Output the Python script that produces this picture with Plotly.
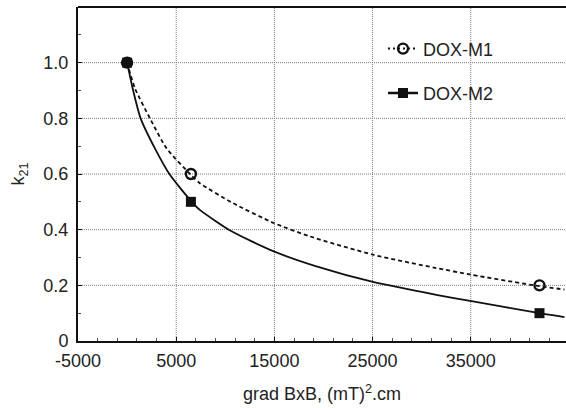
import plotly.graph_objects as go

# measured points
x_pts = [0, 6500, 42000]
m1_pts = [1.0, 0.6, 0.2]
m2_pts = [1.0, 0.5, 0.1]

# fitted curves
m1_curve_x = [0, 799, 2325, 4023, 6495, 7411, 10799, 14939, 18601, 25040, 31490, 35081, 41999, 44542]
m1_curve_y = [1.0, 0.908, 0.800, 0.692, 0.597, 0.567, 0.495, 0.424, 0.376, 0.310, 0.262, 0.238, 0.197, 0.185]
m2_curve_x = [0, 565, 1378, 2833, 4359, 6567, 7411, 10636, 14939, 19283, 25040, 31490, 35081, 41999, 44542]
m2_curve_y = [1.0, 0.908, 0.800, 0.692, 0.597, 0.501, 0.471, 0.394, 0.322, 0.268, 0.212, 0.166, 0.143, 0.100, 0.086]

x_ticks = [-5000, 5000, 15000, 25000, 35000]
y_ticks = [0, 0.2, 0.4, 0.6, 0.8, 1.0]
y_ticktext = ["0", "0.2", "0.4", "0.6", "0.8", "1.0"]

FONT = "Liberation Sans, Arial, sans-serif"
TXT = "#222222"
GRID = "#7a7a7a"

fig = go.Figure()

# dotted grid drawn from the tick arrays
grid_shapes = []
for xv in x_ticks[1:]:
    grid_shapes.append(dict(type="line", xref="x", yref="paper", x0=xv, x1=xv, y0=0, y1=1, layer="below",
                            line=dict(color=GRID, width=1, dash="1px,1px")))
for yv in y_ticks[1:]:
    grid_shapes.append(dict(type="line", xref="paper", yref="y", x0=0, x1=1, y0=yv, y1=yv, layer="below",
                            line=dict(color=GRID, width=1, dash="1px,1px")))
grid_shapes.append(dict(type="line", xref="paper", yref="paper", x0=0, x1=1, y0=1, y1=1,
                        line=dict(color="#111", width=2)))

fig.add_trace(go.Scatter(x=m1_curve_x, y=m1_curve_y, mode="lines", showlegend=False,
                         line=dict(color="#111", width=1.8, dash="4px,3px", shape="spline", smoothing=0.6)))
fig.add_trace(go.Scatter(x=m2_curve_x, y=m2_curve_y, mode="lines", showlegend=False,
                         line=dict(color="#111", width=1.8, shape="spline", smoothing=0.6)))
fig.add_trace(go.Scatter(x=x_pts, y=m1_pts, mode="markers", showlegend=False,
                         marker=dict(symbol="circle-open", size=10, color="#111", line=dict(width=2.4, color="#111"))))
fig.add_trace(go.Scatter(x=x_pts, y=m2_pts, mode="markers", showlegend=False,
                         marker=dict(symbol="square", size=10, color="#111")))
# legend entries
fig.add_trace(go.Scatter(x=[None], y=[None], mode="lines+markers", name="DOX-M1", legendgroup="a",
                         line=dict(color="#111", width=2, dash="2px,3px"),
                         marker=dict(symbol="circle-open", size=10, color="#111", line=dict(width=2.4, color="#111"))))
fig.add_trace(go.Scatter(x=[None], y=[None], mode="lines+markers", name="DOX-M2", legendgroup="b",
                         line=dict(color="#111", width=2.5),
                         marker=dict(symbol="square", size=10, color="#111")))

fig.update_layout(
    width=566, height=408,
    margin=dict(l=78, r=0, t=7, b=67),
    paper_bgcolor="white", plot_bgcolor="white",
    font=dict(family=FONT, size=18, color=TXT),
    legend=dict(x=0.625, y=0.93, xanchor="left", yanchor="top", bgcolor="rgba(0,0,0,0)",
                itemwidth=30, tracegroupgap=18, font=dict(size=18, color=TXT)),
    xaxis=dict(range=[-5000, 44700], tickmode="array", tickvals=x_ticks, ticktext=[str(v) for v in x_ticks],
               showgrid=False,
               zeroline=False, showline=True, linecolor="#111", linewidth=2, mirror=False,
               ticks="inside", ticklen=4, tickcolor="#111", ticklabelstandoff=2,
               minor=dict(dtick=2000, tick0=-5000, ticks="inside", ticklen=3, tickcolor="#555", showgrid=False),
               title=dict(text="grad BxB, (mT)<sup>2</sup>.cm", font=dict(size=18), standoff=18),
               tickfont=dict(size=18)),
    yaxis=dict(range=[0, 1.2], tickmode="array", tickvals=y_ticks, ticktext=y_ticktext,
               showgrid=False,
               zeroline=False, showline=True, linecolor="#111", linewidth=2,
               ticks="inside", ticklen=4, tickcolor="#111", ticklabelstandoff=4,
               minor=dict(dtick=0.1, tick0=0, ticks="inside", ticklen=3, tickcolor="#555", showgrid=False),
               title=dict(text="k<sub>21</sub>", font=dict(size=18), standoff=14),
               tickfont=dict(size=18)),
    shapes=grid_shapes,
)

fig.write_html("out.html")
